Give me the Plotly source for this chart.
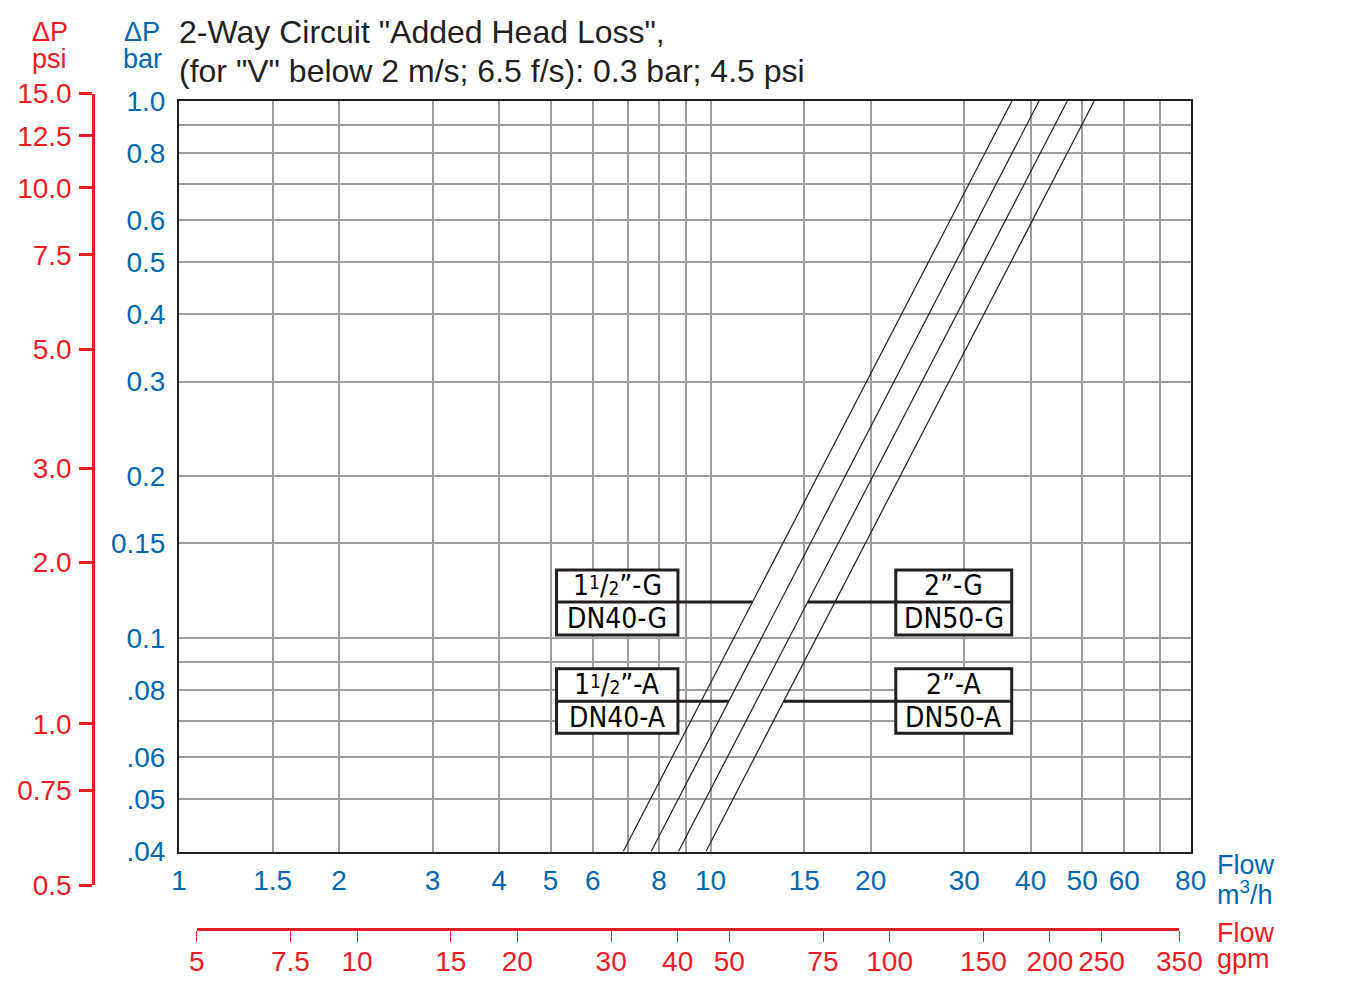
import math
import plotly.graph_objects as go

# --------------------------------------------------------------------------- #
# Data                                                      #
# --------------------------------------------------------------------------- #
# every curve is a straight line on log-log paper; flow (m3/h) at the bottom
# (0.04 bar) and at the top (1.0 bar) of the grid
dp_bar = [0.04, 1.0]
flow_dn40_g = [6.85, 36.9]
flow_dn40_a = [7.73, 41.5]
flow_dn50_g = [8.70, 46.9]
flow_dn50_a = [9.80, 52.7]

flow_ticks = [1, 1.5, 2, 3, 4, 5, 6, 7, 8, 9, 10, 15, 20, 30, 40, 50, 60, 70, 80]
flow_labels = ["1", "1.5", "2", "3", "4", "5", "6", "", "8", "", "10",
               "15", "20", "30", "40", "50", "60", "", "80"]
bar_ticks = [0.04, 0.05, 0.06, 0.07, 0.08, 0.09, 0.1, 0.15, 0.2, 0.3, 0.4,
             0.5, 0.6, 0.7, 0.8, 0.9, 1.0]
bar_labels = [".04", ".05", ".06", "", ".08", "", "0.1", "0.15", "0.2", "0.3",
              "0.4", "0.5", "0.6", "", "0.8", "", "1.0"]
psi_ticks = [0.5, 0.75, 1, 2, 3, 5, 7.5, 10, 12.5, 15]
psi_labels = ["0.5", "0.75", "1.0", "2.0", "3.0", "5.0", "7.5", "10.0",
              "12.5", "15.0"]
gpm_ticks = [5, 7.5, 10, 15, 20, 30, 40, 50, 75, 100, 150, 200, 250, 350]
gpm_labels = ["5", "7.5", "10", "15", "20", "30", "40", "50", "75", "100",
              "150", "200", "250", "350"]

SUP1 = "<span style='font-size:19px;baseline-shift:6px'>1</span>"
SUB2 = "<span style='font-size:19px'>2</span>"
valve_top = [f"1{SUP1}/{SUB2}”-G", f"1{SUP1}/{SUB2}”-A", "2”-G", "2”-A"]
valve_dn = ["DN40-G", "DN40-A", "DN50-G", "DN50-A"]

# --------------------------------------------------------------------------- #
# Look                                                                         #
# --------------------------------------------------------------------------- #
BLUE = "#0067B1"
RED = "#ED1C24"
INK = "#231F20"
GRID = "#9D9D9D"
FONT = "Liberation Sans, Arial, Helvetica, sans-serif"
NARROW = "Liberation Sans Narrow, Arial Narrow, DejaVu Sans Condensed, sans-serif"
TICK = 28

W, H = 1350, 1001
SHIFT = 8          # the html body margin that sits before the figure
PAD_L, PAD_R, PAD_T, PAD_B = 72, 158, 80, 69
PW = W - PAD_L - PAD_R
PH = H - PAD_T - PAD_B


def fx(px):
    return (px - SHIFT - PAD_L) / PW


def fy(py):
    return (H - PAD_B - (py - SHIFT)) / PH


def flow_at(flow, dp):
    """Flow on a log-log straight curve at a given pressure drop."""
    t = (math.log10(dp) - math.log10(dp_bar[0])) / (
        math.log10(dp_bar[1]) - math.log10(dp_bar[0]))
    lx = math.log10(flow[0]) + t * (math.log10(flow[1]) - math.log10(flow[0]))
    return 10 ** lx


fig = go.Figure()

for flow in (flow_dn40_g, flow_dn40_a, flow_dn50_g, flow_dn50_a):
    fig.add_trace(go.Scatter(
        x=flow, y=dp_bar, mode="lines",
        line=dict(color=INK, width=1.2),
        showlegend=False, hoverinfo="skip",
    ))

# empty trace so that the psi / gpm scales get drawn
fig.add_trace(go.Scatter(x=[None], y=[None], xaxis="x2", yaxis="y2",
                         showlegend=False, hoverinfo="skip"))

# ------------------------------------------------------------------ #
# Label boxes with leaders                                            #
# ------------------------------------------------------------------ #
box_left = (5.13, 8.68)
box_right = (22.3, 36.85)
box_g = (0.1012, 0.1166, 0.1337)   # bottom, divider/leader, top
box_a = (0.0664, 0.0762, 0.0876)

boxes = [
    (box_left, box_g, flow_dn40_g, "left"),
    (box_left, box_a, flow_dn40_a, "left"),
    (box_right, box_g, flow_dn50_g, "right"),
    (box_right, box_a, flow_dn50_a, "right"),
]

shapes = []
annotations = []
for i, (bx, by, flow, side) in enumerate(boxes):
    hit = flow_at(flow, by[1])
    lead = (bx[1], hit) if side == "left" else (hit, bx[0])
    shapes.append(dict(type="line", xref="x", yref="y", x0=lead[0], x1=lead[1],
                       y0=by[1], y1=by[1], line=dict(color=INK, width=3)))
    shapes.append(dict(type="rect", xref="x", yref="y", x0=bx[0], x1=bx[1],
                       y0=by[0], y1=by[2], fillcolor="white",
                       line=dict(color=INK, width=3)))
    shapes.append(dict(type="line", xref="x", yref="y", x0=bx[0], x1=bx[1],
                       y0=by[1], y1=by[1], line=dict(color=INK, width=3)))
    xc = (math.log10(bx[0]) + math.log10(bx[1])) / 2
    for text, lo, hi in ((valve_top[i], by[1], by[2]), (valve_dn[i], by[0], by[1])):
        annotations.append(dict(
            x=xc, y=(math.log10(lo) + math.log10(hi)) / 2, xref="x", yref="y",
            text=text, showarrow=False, xanchor="center", yanchor="middle",
            font=dict(family=NARROW, size=28, color="black"),
        ))


# ------------------------------------------------------------------ #
# Header and unit texts                                               #
# ------------------------------------------------------------------ #
def note(text, px, py, color, size=27, xanchor="center"):
    annotations.append(dict(
        x=fx(px), y=fy(py), xref="paper", yref="paper", text=text,
        showarrow=False, xanchor=xanchor, yanchor="middle", align="left",
        font=dict(family=FONT, size=size, color=color),
    ))


note("ΔP", 49.5, 32.2, RED)
note("psi", 49.5, 58.9, RED)
note("ΔP", 142, 32.2, BLUE)
note("bar", 142, 58.9, BLUE)
note('2-Way Circuit "Added Head Loss",', 177, 31.6, INK, size=32, xanchor="left")
note('(for "V" below 2 m/s; 6.5 f/s): 0.3 bar; 4.5 psi', 177, 70.6, INK,
     size=32, xanchor="left")
note("Flow", 1215, 865, BLUE, xanchor="left")
note("m<sup>3</sup>/h", 1215, 893, BLUE, xanchor="left")
note("Flow", 1215, 933, RED, xanchor="left")
note("gpm", 1215, 959, RED, xanchor="left")

fig.update_layout(
    width=W, height=H,
    template="none",
    paper_bgcolor="white", plot_bgcolor="rgba(0,0,0,0)",
    margin=dict(l=PAD_L, r=PAD_R, t=PAD_T, b=PAD_B, pad=0, autoexpand=False),
    font=dict(family=FONT, size=27, color=INK),
    showlegend=False,
    hovermode=False,
    xaxis=dict(
        type="log", range=[0, math.log10(80)],
        domain=[fx(179), fx(1190.7)], anchor="y",
        tickmode="array", tickvals=flow_ticks, ticktext=flow_labels,
        ticks="", ticklabelstandoff=3,
        tickfont=dict(color=BLUE, size=TICK),
        showgrid=True, gridcolor=GRID, gridwidth=1.5,
        showline=True, mirror=True, linecolor=INK, linewidth=2,
        zeroline=False, automargin=False,
    ),
    yaxis=dict(
        type="log", range=[math.log10(0.04), 0],
        domain=[fy(851.5), fy(100.7)], anchor="x",
        tickmode="array", tickvals=bar_ticks, ticktext=bar_labels,
        ticks="", ticklabelstandoff=6,
        tickfont=dict(color=BLUE, size=TICK),
        showgrid=True, gridcolor=GRID, gridwidth=1.5,
        showline=True, mirror=True, linecolor=INK, linewidth=2,
        zeroline=False, automargin=False,
    ),
    xaxis2=dict(
        type="log", range=[math.log10(5), math.log10(350)],
        domain=[fx(196.7), fx(1179.4)], anchor="free", position=fy(929.3),
        side="bottom",
        tickmode="array", tickvals=gpm_ticks, ticktext=gpm_labels,
        ticks="outside", ticklen=11, tickwidth=1.3, tickcolor=RED,
        ticklabelstandoff=-5,
        tickfont=dict(color=RED, size=TICK),
        showgrid=False, showline=True, linecolor=RED, linewidth=3,
        zeroline=False, automargin=False,
    ),
    yaxis2=dict(
        type="log", range=[math.log10(0.5), math.log10(15)],
        domain=[fy(885), fy(93.5)], anchor="free", position=fx(93.3),
        side="left",
        tickmode="array", tickvals=psi_ticks, ticktext=psi_labels,
        ticks="outside", ticklen=13, tickwidth=3, tickcolor=RED,
        ticklabelstandoff=2,
        tickfont=dict(color=RED, size=TICK),
        showgrid=False, showline=True, linecolor=RED, linewidth=3,
        zeroline=False, automargin=False,
    ),
    shapes=shapes,
    annotations=annotations,
)

fig.write_html("out.html")
